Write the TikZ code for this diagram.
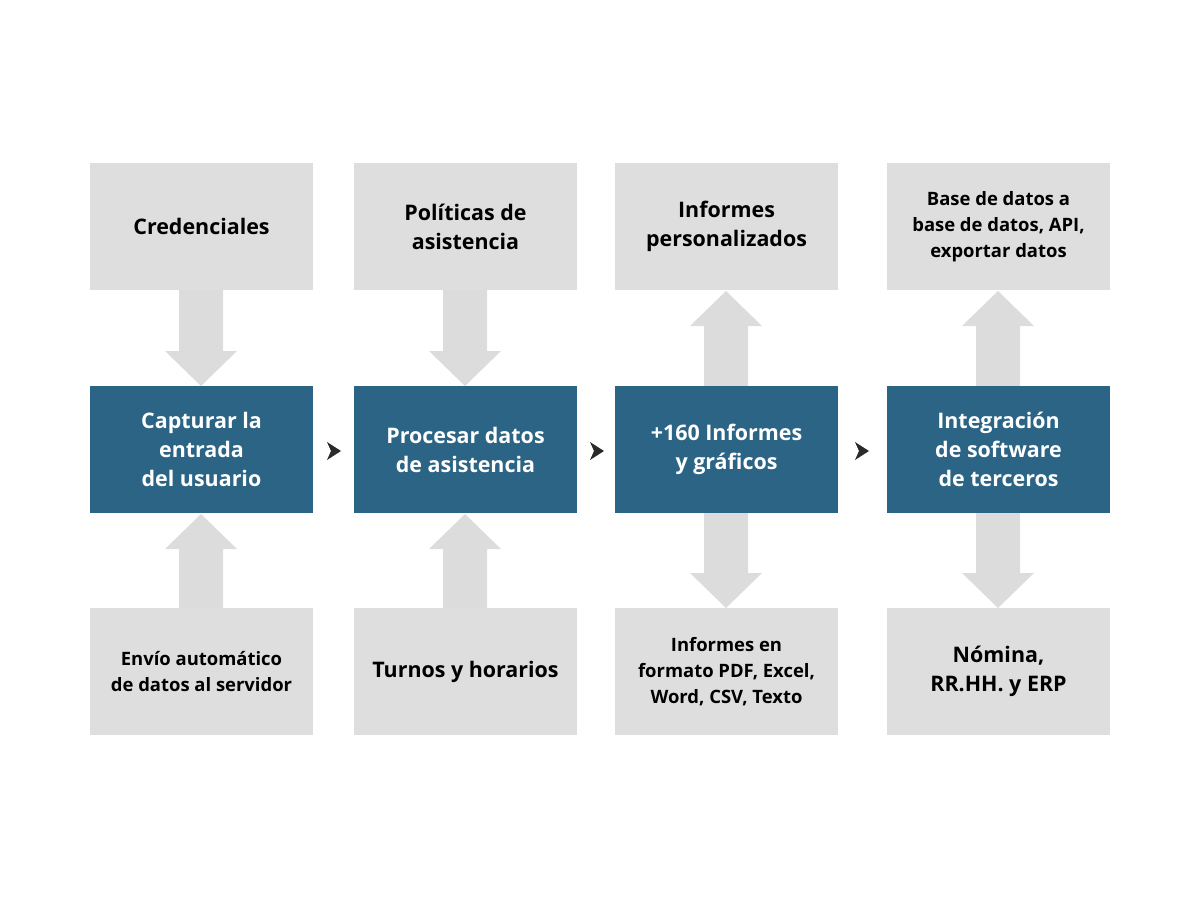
\documentclass[tikz,border=0pt]{standalone}
\usepackage{fontspec}
\setmainfont{Open Sans}
\begin{document}
\begin{tikzpicture}[x=0.02cm,y=-0.02cm,
  box/.style={fill=boxgray,minimum width=223*0.02cm,minimum height=127*0.02cm,inner sep=0pt,align=center,font=\bfseries\fontsize{12.2}{16.5}\selectfont},
  small/.style={font=\bfseries\fontsize{10.5}{14.8}\selectfont},
  blue/.style={box,fill=boxblue,text=white},
  arr/.style={fill=arrgray}]
\definecolor{boxgray}{HTML}{DEDEDE}
\definecolor{arrgray}{HTML}{DCDCDC}
\definecolor{boxblue}{HTML}{2B6484}
\definecolor{chev}{HTML}{2A2A2A}
\useasboundingbox (0,0) rectangle (1200,900);
\newcommand\dnarr[3]{\fill[arrgray] (#1-22,#2) -- (#1+22,#2) -- (#1+22,#3-35) -- (#1+36,#3-35) -- (#1,#3) -- (#1-36,#3-35) -- (#1-22,#3-35) -- cycle;}
\newcommand\uparr[3]{\fill[arrgray] (#1-22,#2) -- (#1+22,#2) -- (#1+22,#3+35) -- (#1+36,#3+35) -- (#1,#3) -- (#1-36,#3+35) -- (#1-22,#3+35) -- cycle;}
\newcommand\chv[2]{\fill[chev] (#1-7,#2-9) -- (#1+7,#2) -- (#1-7,#2+9) -- (#1-3,#2) -- cycle;}
% arrows
\dnarr{201}{290}{386}
\uparr{201}{608}{514}
\dnarr{465}{290}{386}
\uparr{465}{608}{514}
\uparr{726}{386}{291}
\dnarr{726}{513}{608}
\uparr{998}{386}{291}
\dnarr{998}{513}{608}
% boxes
\node[box] (t1) at (201.5,226.5) {Credenciales};
\node[box] (t2) at (465.5,226.5) {Políticas de\\asistencia};
\node[box] (t3) at (726.5,226.5) {Informes\\personalizados};
\node[box,small] (t4) at (998.5,226.5) {Base de datos a\\base de datos, API,\\exportar datos};
\node[blue] (m1) at (201.5,449.5) {Capturar la\\entrada\\del usuario};
\node[blue] (m2) at (465.5,449.5) {Procesar datos\\de asistencia};
\node[blue] (m3) at (726.5,449.5) {+160 Informes\\y gráficos};
\node[blue] (m4) at (998.5,449.5) {Integración\\de software\\de terceros};
\node[box,small] (b1) at (201.5,671.5) {Envío automático\\de datos al servidor};
\node[box] (b2) at (465.5,671.5) {Turnos y horarios};
\node[box,small] (b3) at (726.5,671.5) {Informes en\\formato PDF, Excel,\\Word, CSV, Texto};
\node[box] (b4) at (998.5,671.5) {Nómina,\\RR.HH. y ERP};
\chv{334}{451}
\chv{597}{451}
\chv{862}{451}
\end{tikzpicture}
\end{document}
